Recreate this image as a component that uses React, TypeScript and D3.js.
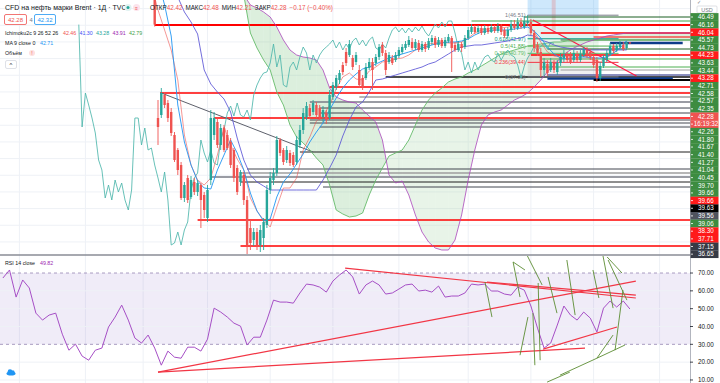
import React from "react";
import * as d3 from "d3";

const FONT = '"Liberation Sans", Arial, sans-serif';

// ---------- DATA ----------
// daily candles [open, high, low, close]; first candle index = -1
const candleFirst = -1;
const candles: number[][] = [
  [49.9, 50.4, 44.8, 45.1],
  [31.09, 33.79, 27.04, 29.74], [31.54, 35.59, 31.09, 34.84], [34.54, 34.99, 32.59, 33.04], [33.34, 33.79, 30.49, 31.09],
  [31.99, 32.59, 28.39, 28.84], [28.54, 28.99, 24.49, 24.79], [26.29, 26.59, 22.54, 23.29], [24.04, 24.49, 18.79, 19.09],
  [19.09, 21.49, 18.49, 21.04], [22.09, 22.54, 18.34, 18.79], [19.24, 22.39, 18.94, 21.79], [21.49, 22.09, 19.54, 19.99],
  [19.99, 21.79, 19.39, 21.34], [21.04, 21.34, 14.59, 18.79], [19.54, 19.99, 16.09, 17.29], [16.09, 21.04, 15.49, 20.29],
  [21.79, 32.29, 21.04, 31.09], [28.54, 31.99, 27.79, 31.09], [30.49, 31.09, 26.59, 27.04], [27.04, 30.19, 26.29, 29.59],
  [29.59, 30.04, 25.99, 26.29], [28.54, 29.29, 26.29, 26.59], [27.49, 28.09, 23.59, 24.04], [26.29, 26.59, 21.49, 22.09],
  [23.59, 24.04, 19.54, 19.99], [21.49, 23.29, 20.89, 22.99], [22.54, 22.99, 18.04, 18.79], [18.79, 19.39, 10.09, 12.04],
  [14.59, 15.79, 11.29, 12.34], [12.79, 14.59, 11.89, 13.99], [13.99, 14.59, 11.29, 12.04], [12.04, 15.04, 10.99, 14.29],
  [13.09, 16.09, 11.29, 15.49], [15.04, 21.04, 14.59, 20.29], [20.29, 22.99, 19.69, 22.09], [21.79, 23.59, 21.04, 22.84],
  [22.84, 28.39, 22.39, 27.79], [27.79, 28.09, 25.39, 25.84], [26.29, 26.59, 24.04, 24.49], [24.79, 26.89, 24.34, 26.29],
  [25.84, 26.29, 23.89, 24.34], [25.54, 25.99, 23.74, 24.04], [24.49, 28.39, 24.04, 27.79], [27.04, 30.04, 26.59, 29.29],
  [29.29, 32.59, 28.69, 31.84], [31.24, 33.49, 30.79, 32.89], [32.59, 33.19, 30.94, 31.39], [31.99, 33.79, 31.54, 33.34],
  [33.04, 33.49, 31.09, 31.54], [32.59, 33.04, 30.79, 31.24], [31.24, 32.89, 30.49, 32.29], [31.84, 32.29, 30.19, 30.79],
  [31.09, 35.29, 30.79, 34.54], [34.24, 36.49, 33.79, 36.04], [35.74, 37.54, 35.29, 37.09], [36.79, 38.29, 36.19, 37.84],
  [39.04, 39.49, 37.54, 37.99], [40.99, 41.59, 38.89, 39.34], [40.54, 42.79, 40.24, 42.19], [40.09, 40.54, 38.29, 38.74],
  [39.49, 40.99, 39.04, 40.54], [38.29, 39.04, 35.59, 36.04], [37.09, 37.54, 35.29, 35.74], [37.09, 39.34, 36.79, 38.74],
  [38.59, 40.09, 38.29, 39.49], [39.49, 40.09, 35.29, 38.29], [39.34, 40.69, 38.89, 40.24], [40.24, 42.19, 39.79, 41.74],
  [42.04, 42.49, 40.39, 40.84], [40.84, 41.29, 37.54, 38.29], [39.49, 40.99, 39.19, 40.54], [40.09, 40.54, 39.04, 39.34],
  [39.79, 40.99, 39.49, 40.54], [40.39, 41.74, 40.09, 41.29], [40.99, 42.19, 40.69, 41.74], [41.59, 42.64, 41.29, 42.19],
  [42.04, 43.39, 41.74, 42.79], [42.49, 43.09, 41.29, 41.59], [41.59, 42.94, 41.29, 42.49], [42.34, 42.79, 40.99, 41.29],
  [41.29, 42.64, 40.99, 42.19], [42.19, 42.49, 40.99, 41.44], [41.59, 43.09, 41.29, 42.64], [42.49, 43.54, 42.04, 43.09],
  [43.09, 43.39, 41.59, 42.04], [42.04, 43.24, 41.74, 42.79], [42.79, 43.09, 41.59, 41.89], [41.89, 43.24, 41.59, 42.79],
  [42.64, 43.69, 42.34, 43.24], [43.09, 43.39, 37.99, 41.59], [42.04, 42.49, 40.99, 41.29], [41.29, 42.64, 40.99, 42.19],
  [42.19, 42.49, 40.99, 41.59], [41.74, 43.54, 41.44, 43.09], [43.09, 44.74, 42.79, 44.29], [43.99, 45.19, 43.69, 44.74],
  [44.74, 45.04, 43.69, 43.99], [43.99, 45.04, 43.69, 44.59], [44.59, 44.89, 43.54, 43.84], [43.84, 45.04, 43.54, 44.59],
  [44.59, 44.89, 43.69, 43.99], [43.99, 45.19, 43.84, 44.74], [44.74, 45.04, 43.84, 44.14], [44.14, 45.34, 43.84, 44.89],
  [44.89, 45.19, 43.54, 43.99], [44.29, 44.59, 43.09, 43.39], [43.39, 44.74, 43.09, 44.29], [44.29, 45.79, 43.99, 45.19],
  [45.19, 45.79, 44.29, 44.59], [44.59, 46.09, 44.29, 45.49], [45.49, 46.09, 44.44, 44.74], [44.74, 46.39, 44.44, 45.64],
  [45.34, 46.51, 44.89, 45.64], [45.49, 45.94, 43.54, 43.84], [43.84, 44.29, 40.99, 41.59], [42.04, 42.49, 40.39, 40.84],
  [40.99, 41.59, 37.25, 38.29], [38.29, 40.09, 37.39, 39.49], [39.19, 39.79, 37.39, 37.84], [38.29, 40.09, 37.99, 39.49],
  [39.34, 39.79, 37.84, 38.29], [37.99, 39.79, 37.54, 39.34], [39.34, 40.84, 38.89, 40.24], [40.09, 41.29, 39.49, 40.54],
  [40.54, 40.99, 39.49, 39.79], [40.39, 40.99, 39.19, 39.49], [39.79, 41.29, 39.49, 40.84], [40.69, 41.14, 39.49, 39.79],
  [39.79, 41.29, 39.49, 40.69], [40.54, 41.74, 40.24, 41.29], [41.29, 41.74, 40.09, 40.54], [40.99, 41.44, 39.79, 40.24],
  [40.24, 40.54, 38.59, 39.04], [39.79, 40.24, 36.49, 37.09], [37.09, 39.49, 36.64, 38.89], [38.89, 40.54, 38.59, 40.09],
  [39.79, 41.29, 39.49, 40.84], [40.69, 42.34, 40.39, 41.89], [41.89, 42.19, 40.84, 41.14], [41.29, 42.34, 40.99, 41.89],
  [41.74, 42.64, 41.44, 42.19], [42.04, 42.49, 41.14, 41.44], [41.59, 42.6, 41.3, 42.42], [42.42, 42.48, 42.21, 42.28],
];

// RSI(14) read every second bar, starting at bar -47
const rsiFirst = -47;
const rsiStep = 2;
const rsiValues = [
  67.2, 71.7, 56.5, 66.1, 61.6, 47.5, 43.6, 46.4, 47.5, 35.7,
  26.7, 30.1, 23.4, 21.1, 26.7, 27.9, 39.7, 45.3, 52.0, 43.6,
  33.5, 30.7, 35.2, 27.9, 18.3, 26.2, 22.8, 22.2, 28.4, 28.4,
  26.2, 32.9, 50.3, 48.1, 45.3, 41.9, 40.2, 29.6, 34.0, 34.0,
  43.6, 54.8, 53.7, 53.7, 53.1, 58.8, 63.8, 63.3, 62.1, 59.3,
  65.5, 68.9, 71.7, 67.8, 58.2, 63.3, 65.5, 63.3, 58.2, 58.8,
  61.0, 63.3, 63.8, 59.9, 60.4, 59.3, 62.7, 56.5, 57.1, 57.1,
  58.8, 63.8, 63.3, 63.8, 59.9, 59.9, 58.2, 57.6, 62.1, 60.4,
  51.5, 39.1, 27.9, 30.7, 40.8, 51.5, 46.4, 43.6, 48.1, 44.7,
  36.9, 50.3, 54.3, 50.9, 54.3, 49.82,
];

// indicator lines read every second bar, starting at bar -2
const lineFirst = -2;
const lineStep = 2;
const tenkan = [
  51.04, 47.29, 44.29, 41.29, 36.79, 28.54, 24.04, 21.79, 21.04, 22.09, 25.54, 29.74, 27.04, 24.94, 23.29, 19.09,
  17.14, 15.79, 14.74, 17.74, 20.59, 20.59, 22.09, 26.29, 28.24, 30.64, 31.39, 33.04, 35.44, 37.24, 37.84, 36.94,
  36.79, 38.14, 38.74, 39.49, 39.64, 39.94, 40.09, 40.54, 41.29, 41.89, 42.19, 42.34, 42.49, 42.34, 42.34, 42.49,
  43.09, 43.84, 44.29, 44.44, 44.59, 44.59, 44.74, 45.04, 45.19, 45.19, 43.99, 42.49, 40.99, 40.39, 40.24, 40.39,
  40.54, 40.39, 40.24, 39.79, 39.49, 40.09, 40.84, 41.59, 42.46,
];
const kijun = [
  54.79, 53.29, 51.79, 50.29, 49.24, 46.99, 45.49, 43.69, 38.29, 36.19, 34.99, 33.94, 31.99, 28.09, 24.79, 22.54,
  21.49, 20.89, 20.29, 20.29, 20.29, 20.29, 20.29, 20.29, 20.29, 20.29, 21.79, 23.59, 25.54, 28.39, 30.79, 32.74,
  33.49, 34.99, 36.79, 36.94, 37.24, 37.54, 37.84, 38.14, 38.44, 38.74, 39.19, 39.49, 40.09, 40.69, 41.29, 41.74,
  41.89, 42.04, 42.04, 42.19, 42.34, 42.49, 42.64, 42.94, 43.09, 43.54, 43.39, 42.79, 42.49, 42.04, 41.74, 41.59,
  41.44, 41.44, 41.3, 41.3, 41.3, 41.3, 41.3, 41.3, 41.3,
];
const ma9 = [
  54.79, 51.79, 48.04, 43.39, 33.04, 27.49, 24.04, 21.64, 20.59, 20.44, 23.29, 25.54, 27.79, 25.84, 23.29, 19.84,
  17.14, 15.64, 15.94, 19.24, 21.49, 22.69, 24.19, 25.69, 27.49, 28.99, 30.34, 32.29, 34.09, 35.59, 36.79, 37.69,
  38.44, 38.74, 39.19, 39.64, 40.09, 40.39, 40.69, 40.99, 41.29, 41.59, 41.89, 42.19, 42.34, 42.49, 42.49, 42.64,
  42.94, 43.54, 43.99, 44.14, 44.29, 44.29, 44.29, 44.44, 44.59, 44.74, 44.14, 43.09, 41.74, 40.69, 40.09, 39.94,
  40.09, 40.24, 40.24, 40.09, 40.09, 40.24, 40.84, 41.59, 42.71,
];

// leading spans (already displaced forward), every second bar from bar 26
const spanFirst = 26;
const spanStep = 2;
const spanA = [
  49.54, 43.84, 41.59, 39.79, 38.29, 34.99, 33.04, 30.04, 28.24, 27.34, 26.29, 25.09, 24.04, 21.04, 17.29, 16.69,
  16.24, 16.39, 16.84, 19.54, 21.79, 23.59, 25.39, 25.84, 26.29, 27.79, 30.04, 32.29, 33.79, 34.84, 35.59, 36.49,
  36.94, 37.24, 37.84, 38.29, 38.89, 39.49, 40.09, 40.69, 40.99, 41.29, 41.59, 41.89, 42.04, 42.19, 42.34, 42.49,
  42.49, 42.64, 42.64, 42.79, 42.79, 42.79, 42.79, 42.79, 42.79, 42.79, 42.79, 42.79, 42.79, 42.79, 42.79, 42.79,
  42.79, 42.79, 42.79, 42.79, 42.79, 42.79, 42.79, 42.79,
];
const spanB = [
  49.54, 48.04, 47.59, 46.99, 46.24, 44.74, 42.79, 41.29, 40.54, 40.24, 40.09, 39.79, 38.29, 35.59, 34.24, 33.79,
  33.49, 33.34, 32.29, 31.39, 30.49, 27.79, 22.54, 21.34, 21.64, 19.54, 16.54, 13.99, 12.49, 11.59, 11.29, 11.29,
  12.79, 16.54, 21.79, 26.29, 30.04, 31.54, 31.99, 32.29, 33.04, 33.79, 34.24, 34.84, 35.74, 36.79, 37.99, 39.04,
  40.09, 40.99, 41.59, 42.04, 42.49, 42.79, 43.09, 43.39, 43.54, 43.69, 43.84, 43.84, 43.84, 43.84, 43.84, 43.84,
  43.84, 43.84, 43.84, 43.84, 43.84, 43.84, 43.84, 43.91,
];
const chikouShift = 23;

const monthTicks = [-42, -22, -4.5, 15, 34, 53, 73, 94, 113, 132, 152];
const priceGrid = [47.5, 45, 42.5, 40, 37.5, 35, 32.5, 30, 27.5, 25, 22.5, 20, 17.5, 15, 12.5];
const rsiTicks = [70, 60, 50, 40, 30, 20, 10];

// horizontal drawings: [price, startBar, endBar|null, color, width]
const hLines: [number, number, number | null, string, number][] = [
  [46.24, 111, null, "#1b5e20", 1], [45.64, 95, null, "#43a047", 1], [45.04, -1, null, "#ff0000", 2],
  [43.84, 116, null, "#ff0000", 1.5], [43.24, 132, null, "#ff0000", 1], [42.79, 122, null, "#2e7d32", 1],
  [42.34, 137, 159, "#0d3b8a", 2.5], [41.44, 118, null, "#1b5e20", 1], [40.54, 113, null, "#ff0000", 1.5],
  [39.94, 116, null, "#4caf50", 1], [38.74, 116, null, "#4caf50", 1], [38.29, 122, null, "#9e9e9e", 1],
  [37.54, 118, null, "#1a237e", 1], [37.24, 69, null, "#111111", 1.5], [37.0, 118, 156, "#0d3b8a", 2.5],
  [36.79, 132, null, "#000000", 2], [35.74, 52, null, "#ff0000", 1.5], [34.84, 0.6, null, "#ff0000", 1.5],
  [34.24, 61, null, "#9e9e9e", 1.5], [33.49, 46, null, "#787b86", 1.5], [32.59, 49, null, "#434651", 1],
  [31.84, 49, null, "#434651", 1], [31.09, 17, null, "#ff0000", 1.5], [30.79, 46, null, "#434651", 1],
  [30.34, 46, null, "#434651", 1], [29.74, 49, null, "#434651", 1], [25.99, 43, null, "#1e1e1e", 1],
  [23.44, 27, null, "#434651", 1], [22.84, 25, null, "#9e9e9e", 1.5], [22.24, 16, null, "#787b86", 1.5],
  [21.49, 25, null, "#1e1e1e", 1], [20.74, 50, null, "#434651", 1], [15.79, 12, null, "#ff0000", 1.5],
  [11.89, 25, null, "#ff0000", 1.5],
];
// sloped drawings: [bar1, price1, bar2, price2, color, width]
const trendLines: [number, number, number, number, string, number][] = [
  [1, 34.84, 47, 25.99, "#5d606b", 1],
  [113.6, 45.79, 145, 37.4, "#ff1744", 1.2],
];
// RSI drawings: [bar1, rsi1, bar2, rsi2, color]
const rsiDrawings: [number, number, number, number, string][] = [
  [0, 14.4, 144.8, 65.5, "#f23645"], [0, 14.4, 129.4, 27.9, "#f23645"], [56.7, 72.8, 144.8, 56.0, "#f23645"],
  [99.7, 64.9, 144.8, 57.6, "#f23645"], [116.7, 27.3, 139.1, 39.7, "#f23645"],
  [99.1, 64.9, 101.2, 45.3, "#5b8c32"], [107.6, 76.2, 111.2, 71.7, "#5b8c32"], [107.6, 76.2, 109.7, 56.5, "#5b8c32"],
  [111.8, 80.1, 116.4, 63.3, "#5b8c32"], [112.1, 45.3, 109.7, 23.9, "#5b8c32"], [113.6, 47.5, 114.2, 18.3, "#5b8c32"],
  [115.2, 64.4, 115.8, 21.1, "#5b8c32"], [118.2, 67.8, 120.9, 47.5, "#5b8c32"], [123.9, 77.3, 126.4, 46.4, "#5b8c32"],
  [131.8, 71.7, 133.6, 56.0, "#5b8c32"], [134.8, 80.1, 137.9, 50.3, "#5b8c32"], [136.1, 79.0, 140.6, 70.0, "#5b8c32"],
  [136.4, 77.3, 142.1, 54.8, "#5b8c32"], [133.0, 22.2, 137.9, 35.2, "#5b8c32"], [133.0, 22.2, 141.5, 29.6, "#5b8c32"],
  [121.8, 12.7, 133.0, 22.2, "#5b8c32"], [138.5, 26.7, 140.9, 60.4, "#5b8c32"], [117.9, 8.8, 124.8, 14.4, "#5b8c32"],
];

const fibHigh = 46.51;
const fibLow = 37.25;
const fibLevels = [1, 0.618, 0.5, 0.382, 0.236, 0];
const fibColors = ["#787b86", "#089981", "#4caf50", "#66bb6a", "#f23645", "#787b86"];
const fibStart = 112;
const fibEnd = 133.5;

const G = "#3d8c40";
const R = "#ff1a1a";
const LR = "#ef5350";
const axisLabels: [string, string][] = [
  ["46.49", G], ["46.16", G], ["46.04", R], ["45.57", G], ["44.73", G], ["44.23", R], ["43.63", G], ["43.44", G],
  ["43.28", R], ["42.71", G], ["42.58", G], ["42.57", G], ["42.35", G], ["42.28", LR], ["16:19:32", LR], ["42.26", G],
  ["41.80", G], ["41.67", G], ["41.40", G], ["41.27", G], ["41.04", G], ["40.45", G], ["39.70", G], ["39.66", G],
  ["39.66", R], ["39.63", "#000000"], ["39.56", "#50535e"], ["39.06", G], ["38.30", R], ["37.71", R],
  ["37.15", "#363a45"], ["36.65", "#363a45"],
];

// ---------- SCALES ----------
const PLOT_R = 690;
const MAIN_B = 254;
const RSI_T = 256;
const H = 383;
const x = d3.scaleLinear().domain([0, 143]).range([158, 629.9]);
const y = d3.scaleLinear().domain([10.69, 48.79]).range([MAIN_B, 0]);
const ry = d3.scaleLinear().domain([0, 100]).range([397.8, 219.55]);

function seriesPath(vals: number[], first: number, step: number) {
  return d3.line<number>().x((_, k) => x(first + k * step)).y((v) => y(v))(vals) || "";
}

function cloudPolys() {
  const out: { pts: [number, number][]; bull: boolean }[] = [];
  for (let k = 0; k < spanA.length - 1; k++) {
    const xa = x(spanFirst + k * spanStep), xb = x(spanFirst + (k + 1) * spanStep);
    const a0 = spanA[k], a1 = spanA[k + 1], b0 = spanB[k], b1 = spanB[k + 1];
    const d0 = a0 - b0, d1 = a1 - b1;
    if (d0 * d1 >= 0) {
      out.push({ pts: [[xa, y(a0)], [xb, y(a1)], [xb, y(b1)], [xa, y(b0)]], bull: d0 + d1 < 0 });
    } else {
      const t = d0 / (d0 - d1);
      const xc = xa + t * (xb - xa);
      const pc = a0 + t * (a1 - a0);
      out.push({ pts: [[xa, y(a0)], [xc, y(pc)], [xa, y(b0)]], bull: d0 < 0 });
      out.push({ pts: [[xc, y(pc)], [xb, y(a1)], [xb, y(b1)]], bull: d1 < 0 });
    }
  }
  return out;
}

export default function App() {
  const closes = candles.map((c) => c[3]);
  const chikou = d3.line<number>().x((_, k) => x(candleFirst + k - chikouShift)).y((v) => y(v))(closes) || "";
  const rsiPath = d3.line<number>().x((_, k) => x(rsiFirst + k * rsiStep)).y((v) => ry(v))(rsiValues) || "";
  const polys = cloudPolys();
  const fibPrice = (l: number) => fibLow + (fibHigh - fibLow) * l;
  const labelY = (k: number) => 17 + 7.65 * k;

  return (
    <svg width={720} height={H} style={{ position: "absolute", left: 0, top: 0, background: "#fff" }} fontFamily={FONT}>
      <defs>
        <clipPath id="mainClip"><rect x={0} y={0} width={PLOT_R} height={MAIN_B} /></clipPath>
        <clipPath id="rsiClip"><rect x={0} y={RSI_T} width={PLOT_R} height={H - RSI_T} /></clipPath>
      </defs>
      <rect x={0} y={0} width={720} height={H} fill="#ffffff" />

      {/* grid */}
      {monthTicks.map((m) => (
        <line key={"v" + m} x1={x(m)} x2={x(m)} y1={0} y2={H} stroke="#eef1f6" strokeWidth={1} />
      ))}
      {priceGrid.map((p) => (
        <line key={"h" + p} x1={0} x2={PLOT_R} y1={y(p)} y2={y(p)} stroke="#eef1f6" strokeWidth={1} />
      ))}

      {/* MAIN PANE */}
      <g clipPath="url(#mainClip)">
        {polys.map((pl, k) => (
          <polygon key={"c" + k} points={pl.pts.map((p) => p.join(",")).join(" ")}
            fill={pl.bull ? "rgba(129,199,132,0.28)" : "rgba(165,214,167,0.26)"} />
        ))}
        {/* blue box + pink strip */}
        <rect x={x(fibStart)} y={0} width={x(fibEnd) - x(fibStart)} height={y(fibHigh)} fill="rgba(33,150,243,0.22)" />
        <rect x={x(119.3)} y={0} width={4} height={y(44.3)} fill="rgba(244,67,54,0.2)" />
        {/* fib bands */}
        {fibLevels.slice(0, -1).map((l, k) => (
          <rect key={"fb" + k} x={x(fibStart)} width={x(fibEnd) - x(fibStart)} y={y(fibPrice(l))}
            height={y(fibPrice(fibLevels[k + 1])) - y(fibPrice(l))} fill={fibColors[k + 1]} opacity={0.12} />
        ))}
        {/* horizontal drawings */}
        {hLines.map(([p, s, e, c, w], k) => (
          <line key={"hl" + k} x1={x(s)} x2={e === null ? PLOT_R : x(e)} y1={y(p)} y2={y(p)} stroke={c} strokeWidth={w} />
        ))}
        {trendLines.map(([b1, p1, b2, p2, c, w], k) => (
          <line key={"tl" + k} x1={x(b1)} y1={y(p1)} x2={x(b2)} y2={y(p2)} stroke={c} strokeWidth={w} />
        ))}
        {fibLevels.map((l, k) => (
          <g key={"fl" + k}>
            <line x1={x(fibStart)} x2={x(fibEnd) + 20} y1={y(fibPrice(l))} y2={y(fibPrice(l))} stroke={fibColors[k]} strokeWidth={1} />
            <text x={x(fibStart) - 2} y={y(fibPrice(l)) + 2} fontSize={5.5} textAnchor="end" fill={fibColors[k]}>
              {`${l}(${fibPrice(l).toFixed(2)})`}
            </text>
          </g>
        ))}
        {/* ichimoku + ma */}
        <path d={seriesPath(spanA, spanFirst, spanStep)} fill="none" stroke="#66bb6a" strokeWidth={1} opacity={0.9} />
        <path d={seriesPath(spanB, spanFirst, spanStep)} fill="none" stroke="#ab47bc" strokeWidth={1} opacity={0.8} />
        <path d={chikou} fill="none" stroke="#4db6ac" strokeWidth={1} opacity={0.85} />
        <path d={seriesPath(kijun, lineFirst, lineStep)} fill="none" stroke="#5b55d6" strokeWidth={1} opacity={0.85} />
        <path d={seriesPath(tenkan, lineFirst, lineStep)} fill="none" stroke="#ef5350" strokeWidth={1} opacity={0.6} />
        <path d={seriesPath(ma9, lineFirst, lineStep)} fill="none" stroke="#2196f3" strokeWidth={1} opacity={0.9} />
        {/* candles */}
        {candles.map((c, j) => {
          const i = candleFirst + j;
          const [o, h, l, cl] = c;
          const col = cl >= o ? "#26a69a" : "#ef5350";
          const cx = x(i);
          const yt = y(Math.max(o, cl));
          const yb = y(Math.min(o, cl));
          return (
            <g key={"k" + j}>
              <line x1={cx} x2={cx} y1={y(h)} y2={y(l)} stroke={col} strokeWidth={0.9} />
              <rect x={cx - 1.2} y={yt} width={2.4} height={Math.max(0.8, yb - yt)} fill={col} />
            </g>
          );
        })}
      </g>

      {/* pane separator */}
      <line x1={0} x2={720} y1={255} y2={255} stroke="#8a8d96" strokeWidth={1.5} />

      {/* RSI PANE */}
      <g clipPath="url(#rsiClip)">
        <rect x={0} y={ry(70)} width={PLOT_R} height={ry(30) - ry(70)} fill="rgba(149,117,205,0.14)" />
        {[60, 50, 40, 20, 10].map((v) => (
          <line key={"rg" + v} x1={0} x2={PLOT_R} y1={ry(v)} y2={ry(v)} stroke="#eef1f6" strokeWidth={1} />
        ))}
        <line x1={0} x2={PLOT_R} y1={ry(70)} y2={ry(70)} stroke="#a99bc0" strokeDasharray="3,3" />
        <line x1={0} x2={PLOT_R} y1={ry(30)} y2={ry(30)} stroke="#a99bc0" strokeDasharray="3,3" />
        <path d={rsiPath} fill="none" stroke="#a64fc6" strokeWidth={1} />
        {rsiDrawings.map(([b1, v1, b2, v2, c], k) => (
          <line key={"rd" + k} x1={x(b1)} y1={ry(v1)} x2={x(b2)} y2={ry(v2)} stroke={c} strokeWidth={c === "#f23645" ? 1.2 : 0.9} />
        ))}
      </g>

      {/* right axis */}
      <rect x={PLOT_R} y={0} width={30} height={H} fill="#ffffff" />
      <line x1={PLOT_R + 0.5} x2={PLOT_R + 0.5} y1={0} y2={H} stroke="#b2b5be" strokeWidth={1} />
      <text x={697} y={4} fontSize={5} fill="#787b86">✓</text>
      <rect x={697} y={6} width={20} height={7} fill="#fff" stroke="#c9ccd3" strokeWidth={0.6} rx={1} />
      <text x={707} y={11.5} fontSize={5.5} textAnchor="middle" fill="#787b86">USD</text>
      {axisLabels.map(([t, bg], k) => (
        <g key={"al" + k}>
          <rect x={PLOT_R + 0.5} y={labelY(k) - 3.9} width={28} height={7.8} fill={bg} />
          <line x1={PLOT_R + 1} x2={PLOT_R + 3} y1={labelY(k)} y2={labelY(k)} stroke="#fff" strokeWidth={0.8} />
          <text x={PLOT_R + 16} y={labelY(k) + 2.2} fontSize={6.3} textAnchor="middle" fill="#fff">{t}</text>
        </g>
      ))}
      {rsiTicks.map((v) => (
        <g key={"rt" + v}>
          <line x1={PLOT_R} x2={PLOT_R + 3} y1={ry(v)} y2={ry(v)} stroke="#131722" strokeWidth={0.8} />
          <text x={PLOT_R + 16} y={ry(v) + 2.2} fontSize={6.3} textAnchor="middle" fill="#131722">{v.toFixed(2)}</text>
        </g>
      ))}

      {/* legends */}
      <g fontSize={7} fill="#131722">
        <text x={5} y={10}>CFD на нефть марки Brent · 1Д · TVC</text>
        <circle cx={128} cy={7.5} r={3.5} fill="#e0f2f1" />
        <circle cx={128} cy={7.5} r={1.5} fill="#26a69a" />
        <rect x={133} y={4} width={7} height={7} rx={3.5} fill="#fce4ec" />
        <text x={136.5} y={9.5} fontSize={5} textAnchor="middle" fill="#ef5350">≡</text>
        <text x={150} y={10} fontSize={6.3}>
          <tspan fill="#131722">ОТКР</tspan><tspan fill="#ef5350">42.42</tspan>
          <tspan fill="#131722" dx={3}>МАКС</tspan><tspan fill="#ef5350">42.48</tspan>
          <tspan fill="#131722" dx={3}>МИН</tspan><tspan fill="#ef5350">42.21</tspan>
          <tspan fill="#131722" dx={3}>ЗАКР</tspan><tspan fill="#ef5350">42.28</tspan>
          <tspan fill="#ef5350" dx={3}>−0.17 (−0.40%)</tspan>
        </text>
        <rect x={4.5} y={14.5} width={22} height={10} rx={1.5} fill="#fff" stroke="#ef5350" strokeWidth={0.8} />
        <text x={15.5} y={22} fontSize={6} textAnchor="middle" fill="#ef5350">42.28</text>
        <text x={29.5} y={22} fontSize={5.8} fill="#787b86">4</text>
        <rect x={34.5} y={14.5} width={21} height={10} rx={1.5} fill="#fff" stroke="#2196f3" strokeWidth={0.8} />
        <text x={45} y={22} fontSize={6} textAnchor="middle" fill="#2196f3">42.32</text>
        <text x={5} y={35} fontSize={5.3}>Ichimoku2c 9 26 52 26</text>
        <text x={63} y={35} fontSize={5.3} fill="#ef5350">42.46</text>
        <text x={79.5} y={35} fontSize={5.3} fill="#3f51f5">41.30</text>
        <text x={96} y={35} fontSize={5.3} fill="#26a69a">43.28</text>
        <text x={112.5} y={35} fontSize={5.3} fill="#9c27b0">43.91</text>
        <text x={129} y={35} fontSize={5.3} fill="#43a047">42.79</text>
        <text x={5} y={45} fontSize={5.3}>MA 9 close 0</text>
        <text x={40} y={45} fontSize={5.3} fill="#2196f3">42.71</text>
        <text x={5} y={55} fontSize={5.3}>Объём</text>
        <circle cx={32} cy={53} r={3} fill="#fde0e0" />
        <text x={32} y={55} fontSize={5} textAnchor="middle" fill="#ef5350">!</text>
        <rect x={5.5} y={60.5} width={11} height={8} rx={1.5} fill="#fff" stroke="#d1d4dc" strokeWidth={0.7} />
        <text x={11} y={67} fontSize={6} textAnchor="middle" fill="#131722">^</text>
        <text x={5} y={265} fontSize={5.3}>RSI 14 close</text>
        <text x={40} y={265} fontSize={5.3} fill="#9c27b0">49.82</text>
      </g>
      {/* cloud icon */}
      <g fill="#2196f3">
        <ellipse cx={11} cy={373.5} rx={4.5} ry={2} />
        <circle cx={10} cy={371.5} r={2.3} />
        <circle cx={12.8} cy={372} r={1.8} />
      </g>
    </svg>
  );
}
